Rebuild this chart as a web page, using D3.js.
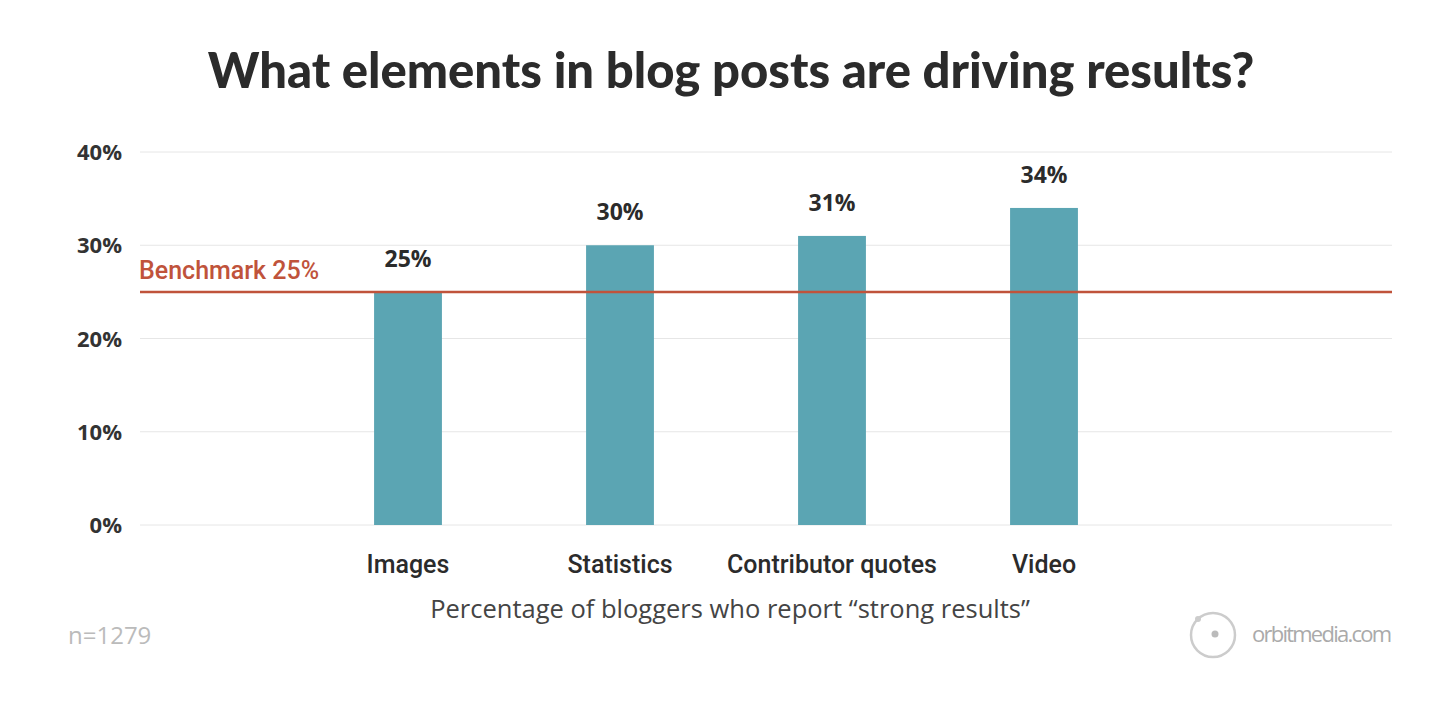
<!DOCTYPE html>
<html><head><meta charset="utf-8">
<script src="https://cdn.jsdelivr.net/npm/d3@7"></script>
<style>body{margin:0;background:#fff}svg{display:block}</style>
</head><body><svg id="c" width="1456" height="708"></svg>
<script>
const categories = ["Images","Statistics","Contributor quotes","Video"];
const values = [25,30,31,34];
const valueLabels = ["25%","30%","31%","34%"];
const yTicks = [0,10,20,30,40];
const benchmark = 25;

const svg = d3.select("#c");
const font = "Lato, 'Open Sans', sans-serif";
const os = "'Open Sans', sans-serif";
const x = d3.scaleBand().domain(categories).range([302,1150]).paddingInner(0.68).paddingOuter(0.34);
const y = d3.scaleLinear().domain([0,40]).range([525,152]);

svg.append("text").attr("x",731).attr("y",88).attr("text-anchor","middle")
  .attr("font-family",font).attr("font-weight",900).attr("font-size",49).attr("fill","#2b2b2b")
  .text("What elements in blog posts are driving results?");

const g = svg.append("g");
g.selectAll(".grid").data(yTicks).join("line")
  .attr("x1",140).attr("x2",1392).attr("y1",d=>y(d)).attr("y2",d=>y(d))
  .attr("stroke","#e6e6e6").attr("stroke-width",1);
g.selectAll(".yl").data(yTicks).join("text")
  .attr("x",122).attr("y",d=>y(d)+8).attr("text-anchor","end")
  .attr("font-family",os).attr("font-weight",700).attr("font-size",22).attr("fill","#333")
  .text(d=>d+"%");

g.selectAll(".bar").data(values).join("rect")
  .attr("x",(d,i)=>x(categories[i])).attr("width",x.bandwidth())
  .attr("y",d=>y(d)).attr("height",d=>y(0)-y(d)).attr("fill","#5ba5b3");

g.selectAll(".vl").data(values).join("text")
  .attr("x",(d,i)=>x(categories[i])+x.bandwidth()/2).attr("y",d=>y(d)-25)
  .attr("text-anchor","middle").attr("font-family",os).attr("font-weight",700)
  .attr("font-size",23).attr("fill","#2b2b2b").text((d,i)=>valueLabels[i]);

g.selectAll(".cl").data(categories).join("text")
  .attr("x",d=>x(d)+x.bandwidth()/2).attr("y",573)
  .attr("text-anchor","middle").attr("font-family","Roboto, sans-serif").attr("font-weight",500)
  .attr("font-size",25).attr("fill","#2b2b2b").text(d=>d);

svg.append("line").attr("x1",140).attr("x2",1392).attr("y1",y(benchmark)).attr("y2",y(benchmark))
  .attr("stroke","#c0533b").attr("stroke-width",2.5);
svg.append("text").attr("x",139).attr("y",y(benchmark)-13)
  .attr("font-family","Roboto, sans-serif").attr("font-weight",500).attr("font-size",25).attr("fill","#c0533b")
  .text("Benchmark 25%");

svg.append("text").attr("x",730).attr("y",618).attr("text-anchor","middle")
  .attr("font-family",os).attr("font-size",25.5).attr("fill","#444")
  .text("Percentage of bloggers who report \u201cstrong results\u201d");
svg.append("text").attr("x",68).attr("y",644)
  .attr("font-family",os).attr("font-size",24).attr("fill","#bbb").text("n=1279");

svg.append("circle").attr("cx",1213).attr("cy",635).attr("r",22).attr("fill","none").attr("stroke","#ccc").attr("stroke-width",2.5);
svg.append("circle").attr("cx",1215).attr("cy",634).attr("r",3.5).attr("fill","#bbb");
svg.append("circle").attr("cx",1198).attr("cy",619).attr("r",3).attr("fill","#ccc");
svg.append("text").attr("x",1252).attr("y",642).attr("textLength",140)
  .attr("font-family","'Liberation Sans Narrow', 'Open Sans', sans-serif").attr("font-size",22).attr("fill","#aaa").text("orbitmedia.com");
</script></body></html>
